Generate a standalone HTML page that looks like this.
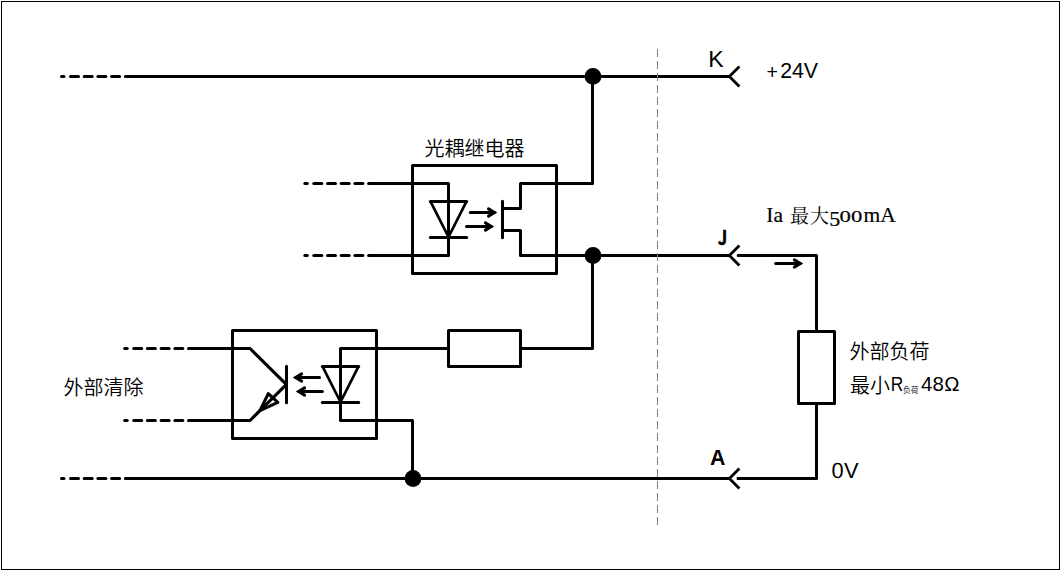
<!DOCTYPE html>
<html lang="zh-CN"><head><meta charset="utf-8"><title>光耦继电器</title>
<style>
html,body{margin:0;padding:0;background:#fff;}
body{width:1061px;height:571px;overflow:hidden;position:relative;}
#frame{position:absolute;left:1px;top:1px;width:1057px;height:567px;border:1px solid #000;}
svg{position:absolute;left:0;top:0;display:block;}
</style></head><body>
<div id="frame"></div>
<svg width="1061" height="571" viewBox="0 0 1061 571">
<g fill="none" stroke="#000" stroke-width="3" stroke-linecap="round" stroke-linejoin="round">
<line x1="61.5" y1="76.5" x2="64.0" y2="76.5"/><line x1="70.5" y1="76.5" x2="78.5" y2="76.5"/><line x1="84.2" y1="76.5" x2="92.2" y2="76.5"/><line x1="97.9" y1="76.5" x2="105.9" y2="76.5"/><line x1="111.6" y1="76.5" x2="119.6" y2="76.5"/>
<line x1="304.8" y1="183.5" x2="307.3" y2="183.5"/><line x1="313.8" y1="183.5" x2="321.8" y2="183.5"/><line x1="327.5" y1="183.5" x2="335.5" y2="183.5"/><line x1="341.2" y1="183.5" x2="349.2" y2="183.5"/><line x1="354.9" y1="183.5" x2="362.9" y2="183.5"/>
<line x1="304.8" y1="255.5" x2="307.3" y2="255.5"/><line x1="313.8" y1="255.5" x2="321.8" y2="255.5"/><line x1="327.5" y1="255.5" x2="335.5" y2="255.5"/><line x1="341.2" y1="255.5" x2="349.2" y2="255.5"/><line x1="354.9" y1="255.5" x2="362.9" y2="255.5"/>
<line x1="124.7" y1="348.5" x2="127.2" y2="348.5"/><line x1="133.7" y1="348.5" x2="141.7" y2="348.5"/><line x1="147.4" y1="348.5" x2="155.4" y2="348.5"/><line x1="161.1" y1="348.5" x2="169.1" y2="348.5"/><line x1="174.8" y1="348.5" x2="182.8" y2="348.5"/>
<line x1="124.7" y1="420.5" x2="127.2" y2="420.5"/><line x1="133.7" y1="420.5" x2="141.7" y2="420.5"/><line x1="147.4" y1="420.5" x2="155.4" y2="420.5"/><line x1="161.1" y1="420.5" x2="169.1" y2="420.5"/><line x1="174.8" y1="420.5" x2="182.8" y2="420.5"/>
<line x1="61.5" y1="478.5" x2="64.0" y2="478.5"/><line x1="70.5" y1="478.5" x2="78.5" y2="478.5"/><line x1="84.2" y1="478.5" x2="92.2" y2="478.5"/><line x1="97.9" y1="478.5" x2="105.9" y2="478.5"/><line x1="111.6" y1="478.5" x2="119.6" y2="478.5"/>
</g>
<g fill="none" stroke="#000" stroke-width="3" stroke-linecap="butt" stroke-linejoin="miter">
<path d="M125.3,76.5 H729"/>
<path d="M125.3,478.5 H729"/>
<path d="M738.2,255.5 h4 M738,478.5 h4 M125.3,76.5 h4 M125.3,478.5 h4 M368.6,183.5 h4 M368.6,255.5 h4 M188.5,348.5 h4 M188.5,420.5 h4" stroke-linecap="round"/>
<path d="M368.5,183.5 H448.5 V255.5 H368.5" stroke-linejoin="round"/>
<path d="M430.3,201.5 H466.7" stroke-linecap="round"/>
<path d="M430.6,201.7 L448.5,237 L466.4,201.7" stroke-linejoin="round" stroke-width="2.7"/>
<path d="M430.3,237.5 H466.7" stroke-linecap="round"/>
<rect stroke-linejoin="round" x="412.5" y="165.5" width="144" height="108"/>
<path d="M592.5,76.5 V183.5 H520.5 V208.5 H502.5" stroke-linejoin="round"/>
<path d="M502.5,201.3 V237.7" stroke-linecap="round"/>
<path d="M502.5,230.5 H520.5 V255.5 H729" stroke-linejoin="round"/>
<path d="M592.5,255.5 V348.5 H520.5" stroke-linejoin="round"/>
<rect stroke-linejoin="round" x="448.5" y="330.5" width="72" height="36"/>
<path d="M448.5,348.5 H340.5 V420.5 H412.5 V478.5" stroke-linejoin="round"/>
<path d="M322.3,366.5 H358.7" stroke-linecap="round"/>
<path d="M322.6,366.7 L340.5,402 L358.4,366.7" stroke-linejoin="round" stroke-width="2.7"/>
<path d="M322.3,402.5 H358.7" stroke-linecap="round"/>
<rect stroke-linejoin="round" x="232.5" y="330.5" width="144" height="108"/>
<path d="M188.5,348.5 H250 L286,384.2" stroke-linejoin="round" stroke-width="3.1"/>
<path d="M286.5,366.3 V402.7" stroke-linecap="round"/>
<path d="M188.5,420.5 H250 L286,384.8" stroke-linejoin="round" stroke-width="3.1"/>
<path d="M259.9,410.6 L268.3,393.6 L277.8,402.3 Z" stroke-width="3.1" stroke-linejoin="round"/>
<path d="M737.5,255.5 H816.5 V331.5" stroke-linejoin="round"/>
<rect stroke-linejoin="round" x="798.5" y="331.5" width="36" height="72"/>
<path d="M816.5,403.5 V478.5 H737" stroke-linejoin="round"/>
</g>
<g fill="none" stroke="#000" stroke-width="2.8" stroke-linecap="butt" stroke-linejoin="miter">
<polyline points="739.4,66.5 729.4,76.5 739.4,86.5"/>
<polyline points="739.4,245.5 729.4,255.5 739.4,265.5"/>
<polyline points="739.4,468.5 729.4,478.5 739.4,488.5"/>
</g>
<circle cx="593" cy="76.4" r="8.4"/><circle cx="593" cy="255.5" r="8.4"/><circle cx="413" cy="478.5" r="8.4"/>
<g fill="none" stroke="#000" stroke-width="3" stroke-linecap="round" stroke-linejoin="miter"><line x1="470.3" y1="212.5" x2="494.4" y2="212.5"/><polyline points="488.5,208.9 494.4,212.5 488.5,216.1"/></g>
<g fill="none" stroke="#000" stroke-width="3" stroke-linecap="round" stroke-linejoin="miter"><line x1="466.5" y1="226.5" x2="491.3" y2="226.5"/><polyline points="485.4,222.9 491.3,226.5 485.4,230.1"/></g>
<g fill="none" stroke="#000" stroke-width="3" stroke-linecap="round" stroke-linejoin="miter"><line x1="319.5" y1="377.5" x2="295.7" y2="377.5"/><polyline points="301.6,373.9 295.7,377.5 301.6,381.1"/></g>
<g fill="none" stroke="#000" stroke-width="3" stroke-linecap="round" stroke-linejoin="miter"><line x1="322.4" y1="391.5" x2="298.7" y2="391.5"/><polyline points="304.6,387.9 298.7,391.5 304.6,395.1"/></g>
<g fill="none" stroke="#000" stroke-width="3" stroke-linecap="round" stroke-linejoin="miter"><line x1="775.7" y1="263.5" x2="800.3" y2="263.5"/><polyline points="794.4,259.9 800.3,263.5 794.4,267.1"/></g>
<line x1="657.5" y1="49" x2="657.5" y2="525" stroke="#808080" stroke-width="1" stroke-dasharray="8 4" shape-rendering="crispEdges"/>
<g fill="#000" font-family="'Liberation Sans','Noto Sans CJK SC',sans-serif" font-size="20" font-weight="350">
<text x="424.4" y="156">光耦继电器</text>
<text x="63.6" y="394.5">外部清除</text>
<text x="849.5" y="358.6">外部负荷</text>
<text y="393"><tspan x="849.9">最小</tspan><tspan x="890.8" dy="-1.6" font-size="20.3" textLength="12.5" lengthAdjust="spacingAndGlyphs">R</tspan><tspan x="903" dy="1.9" font-size="7.8">负荷</tspan><tspan x="920.9" dy="-1.9" font-size="20.4" letter-spacing="0.3">48Ω</tspan></text>
<text x="831.6" y="477.8" font-size="21.8" letter-spacing="0.2" style="text-rendering:geometricPrecision">0V</text>
</g>
<g fill="#000" font-family="'Liberation Sans','Noto Sans CJK SC',sans-serif">
<text x="708.2" y="67" font-size="23.2" style="text-rendering:geometricPrecision">K</text>
<text x="766.6" y="78" font-size="21.33"><tspan font-size="19.5" dy="0.8">+</tspan><tspan dy="-0.8" dx="2.2" letter-spacing="-0.1">24V</tspan></text>
<text transform="translate(717.7,244.8) scale(0.86,1)" font-size="19.4" font-weight="bold" stroke="#000" stroke-width="0.5" font-family="'Noto Sans CJK SC','Liberation Sans',sans-serif">J</text>
<text x="710" y="464.8" font-size="21.33" font-weight="bold">A</text>
</g>
<g fill="#000" stroke="#000" stroke-width="0.18" font-family="'Liberation Serif','Noto Serif CJK SC',serif">
<text y="222" font-size="21.5"><tspan x="766.3">Ia </tspan><tspan x="790" dy="1" font-size="19" letter-spacing="1" stroke="none">最大</tspan><tspan x="829.3" dy="2.7" font-size="22">5</tspan><tspan x="839.6" dy="-3.5" font-size="16" textLength="22.7" lengthAdjust="spacingAndGlyphs">00</tspan><tspan x="863.6" dy="-0.2">mA</tspan></text>
</g>
</svg>
</body></html>
